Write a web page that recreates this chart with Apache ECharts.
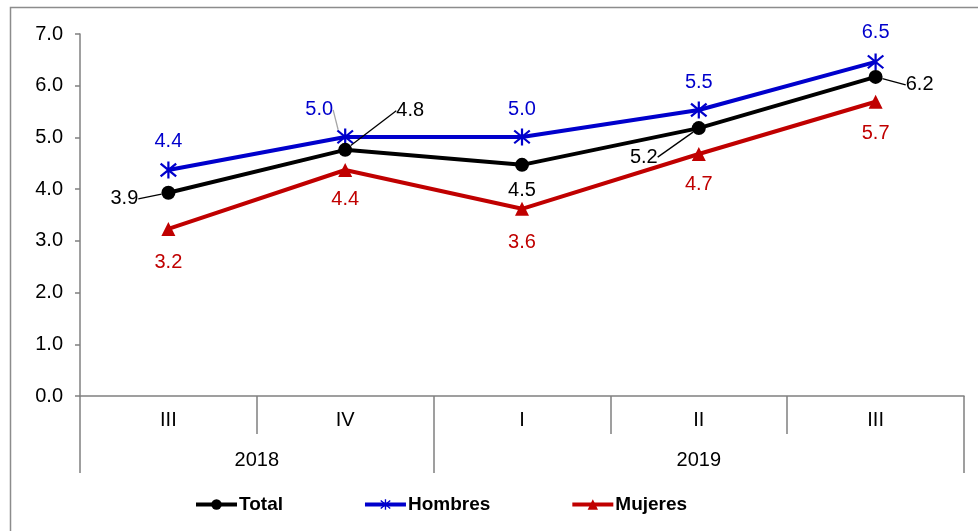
<!DOCTYPE html>
<html><head><meta charset="utf-8">
<script src="https://cdn.jsdelivr.net/npm/echarts@6/dist/echarts.min.js"></script>
<style>html,body{margin:0;padding:0;background:#fff}#c{width:978px;height:531px}</style>
</head><body><div id="c"></div>
<script>
const categories = ['III', 'IV', 'I', 'II', 'III'];
const yearLabels = ['2018', '2019'];
const total = [3.93, 4.76, 4.47, 5.18, 6.17];
const hombres = [4.37, 5.01, 5.01, 5.53, 6.46];
const mujeres = [3.23, 4.37, 3.62, 4.68, 5.69];

// label offsets (style): [dx, dy] relative to the point
const offTotal = [[-44, 6], [65, -39], [0, 26], [-55, 29], [44, 8]];
const offHombres = [[0, -29], [-26, -27], [0, -27], [0, -28], [0, -29]];
const offMujeres = [[0, 34], [0, 29], [0, 34], [0, 31], [0, 32]];
const lineTotal = [true, true, false, true, true];
const lineHombres = [false, true, false, false, false];

const FONT = '"Liberation Sans", Arial, sans-serif';
const chart = echarts.init(document.getElementById('c'), null, {renderer: 'canvas'});

function mk(vals, lines, lineColor) {
  return vals.map((v, i) => ({
    value: v,
    labelLine: {show: !!(lines && lines[i]), lineStyle: {color: lineColor, width: 1.3}}
  }));
}
const offs = [offTotal, offHombres, offMujeres];

const star = 'path://M7,0 L9,0 L9,16 L7,16 Z ' +
  'M0.35,2.76 L1.65,1.24 L15.65,13.24 L14.35,14.76 Z ' +
  'M1.65,14.76 L0.35,13.24 L14.35,1.24 L15.65,2.76 Z';

chart.setOption({
  animation: false,
  graphic: [{type: 'rect', left: 8, top: 5, shape: {width: 1200, height: 800},
    style: {fill: 'none', stroke: '#8c8c8c', lineWidth: 1.5}, silent: true}],
  grid: {left: 80, right: 14, top: 34, bottom: 135},
  xAxis: [{
    type: 'category', data: categories, boundaryGap: true,
    axisLine: {lineStyle: {color: '#808080', width: 1.5}},
    axisTick: {show: true, length: 38, lineStyle: {color: '#808080', width: 1.5}},
    axisLabel: {color: '#000', fontSize: 20, fontFamily: FONT, margin: 14}
  }, {
    type: 'value', min: 0, max: 5, position: 'bottom', offset: 38,
    splitLine: {show: false},
    axisLine: {show: false},
    axisTick: {show: true, length: 39, customValues: [0, 2, 5], lineStyle: {color: '#808080', width: 1.5}},
    axisLabel: {color: '#000', fontSize: 20, fontFamily: FONT, margin: 16,
      customValues: [1, 3.5], formatter: v => (v < 2 ? yearLabels[0] : yearLabels[1])}
  }],
  yAxis: {
    type: 'value', min: 0, max: 7, interval: 1,
    splitLine: {show: false},
    axisLine: {show: true, lineStyle: {color: '#808080', width: 1.5}},
    axisTick: {show: true, length: 5, lineStyle: {color: '#808080', width: 1.5}},
    axisLabel: {color: '#000', fontSize: 20, fontFamily: FONT, margin: 17, formatter: v => v.toFixed(1)}
  },
  legend: {
    bottom: 12, left: 189, itemGap: 80, itemWidth: 41, itemHeight: 13,
    lineStyle: {width: 4},
    textStyle: {fontSize: 19, fontWeight: 'bold', color: '#000', fontFamily: FONT, padding: [0, 0, 0, -3]},
    data: ['Total', 'Hombres', 'Mujeres']
  },
  labelLayout: function (p) {
    const o = offs[p.seriesIndex][p.dataIndex];
    return {dx: o[0], dy: o[1]};
  },
  series: [{
    name: 'Total', type: 'line', xAxisIndex: 0, data: mk(total, lineTotal, '#000'),
    symbol: 'circle', symbolSize: 14,
    lineStyle: {color: '#000', width: 4}, itemStyle: {color: '#000'},
    label: {show: true, position: 'inside', color: '#000', fontSize: 20, fontFamily: FONT, formatter: p => p.value.toFixed(1)},
    z: 3
  }, {
    name: 'Hombres', type: 'line', xAxisIndex: 0, data: mk(hombres, lineHombres, '#a6a6a6'),
    symbol: star, symbolSize: 17,
    lineStyle: {color: '#0000CC', width: 4}, itemStyle: {color: '#0000CC'},
    label: {show: true, position: 'inside', color: '#0000CC', fontSize: 20, fontFamily: FONT, formatter: p => p.value.toFixed(1)},
    z: 2
  }, {
    name: 'Mujeres', type: 'line', xAxisIndex: 0, data: mk(mujeres, null, '#C00000'),
    symbol: 'triangle', symbolSize: 14,
    lineStyle: {color: '#C00000', width: 4}, itemStyle: {color: '#C00000'},
    label: {show: true, position: 'inside', color: '#C00000', fontSize: 20, fontFamily: FONT, formatter: p => p.value.toFixed(1)},
    z: 1
  }]
});
</script></body></html>
